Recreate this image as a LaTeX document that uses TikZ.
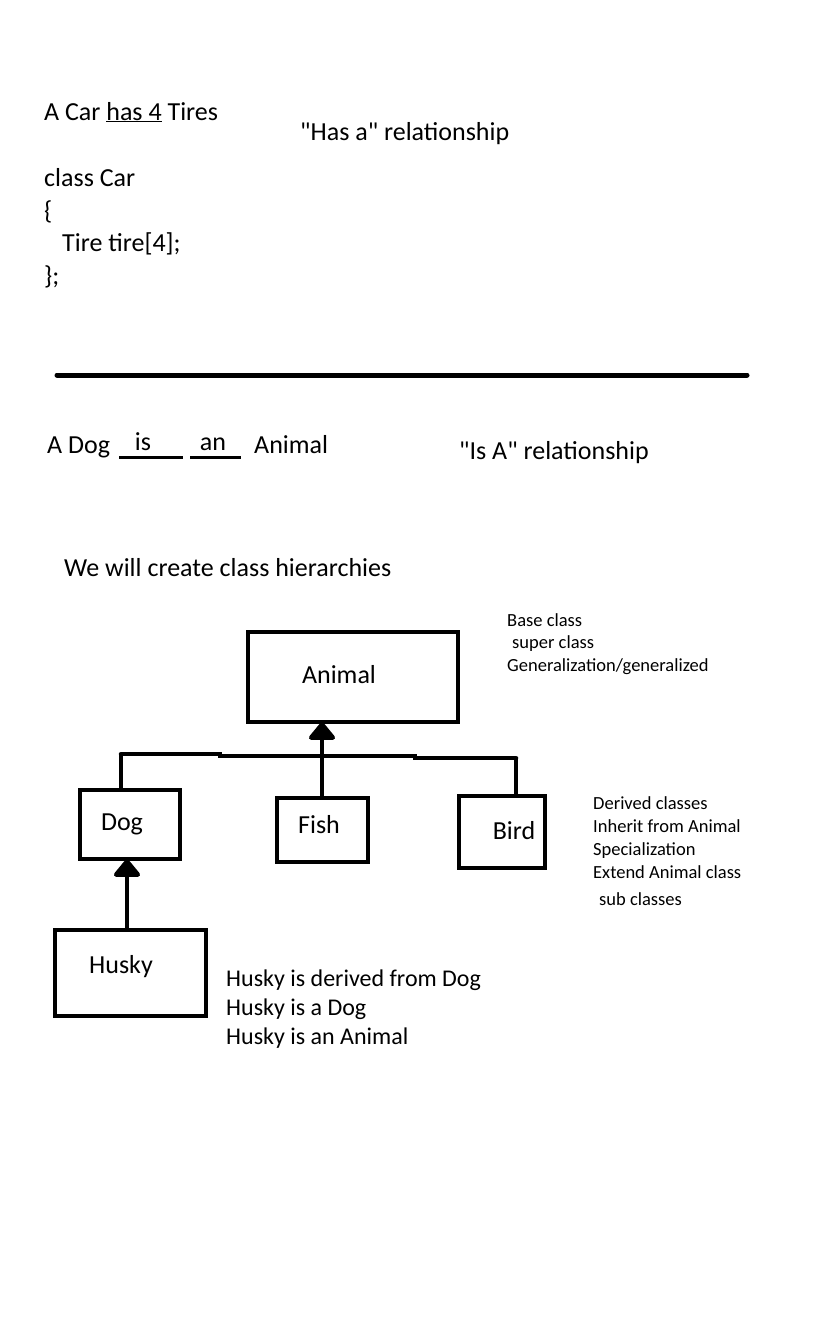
\documentclass[tikz,border=0pt]{standalone}
\usepackage{fontspec}
\setmainfont{Carlito}[Ligatures=TeXOff]
\usetikzlibrary{arrows.meta}
\tikzset{
  big/.style={font=\fontsize{26}{30}\selectfont, inner sep=0pt, anchor=base west},
  mid/.style={font=\fontsize{24}{28}\selectfont, inner sep=0pt, anchor=base west},
  small/.style={font=\fontsize{18.5}{22}\selectfont, inner sep=0pt, anchor=base west},
  cls/.style={draw, line width=4.5pt, inner sep=0pt},
  clslabel/.style={font=\fontsize{26}{30}\selectfont, inner sep=0pt, anchor=base},
  conn/.style={line width=4.5pt},
  inh/.style={line width=4.5pt, -{Triangle[width=30pt,length=19pt,round]}, shorten >=-2pt}
}
\begin{document}
\begin{tikzpicture}[x=1pt,y=-1pt]
\useasboundingbox (0,0) rectangle (838,1320);
\fill[white] (0,0) rectangle (838,1320);
% Has-a part
\node[big] (car) at (44,120) {A Car \underline{has 4} Tires};
\node[big] (hasa) at (300,140) {"Has a" relationship};
\node[big] (c1) at (44,186) {class Car};
\node[big] (c2) at (44,219) {\{};
\node[big] (c3) at (62,251) {Tire tire[4];};
\node[big] (c4) at (44,284) {\};};
% separator
\draw[line width=5pt, line cap=round] (57,375) -- (747,375);
% Is-a part
\node[big] (adog) at (47,453) {A Dog};
\draw[line width=2.5pt] (119,457.5) -- (183,457.5);
\draw[line width=2.5pt] (190,457.5) -- (241,457.5);
\node[big, anchor=base] (is) at (143,450) {is};
\node[big, anchor=base] (an) at (213,450) {an};
\node[big] (animalw) at (254,453) {Animal};
\node[big] (isa) at (459,459) {"Is A" relationship};
\node[big] (we) at (64,576) {We will create class hierarchies};
% hierarchy boxes
\node[cls, minimum width=210pt, minimum height=90pt] (animal) at (353,677) {};
\node[clslabel] (animall) at (339,683) {Animal};
\node[cls, minimum width=100pt, minimum height=69pt] (dog) at (130,824.5) {};
\node[clslabel] (dogl) at (122,830) {Dog};
\node[cls, minimum width=91pt, minimum height=64pt] (fish) at (322.5,830) {};
\node[clslabel] (fishl) at (319,833) {Fish};
\node[cls, minimum width=86pt, minimum height=72pt] (bird) at (502,832) {};
\node[clslabel] (birdl) at (514,839) {Bird};
\node[cls, minimum width=151pt, minimum height=86pt] (husky) at (130.5,973) {};
\node[clslabel] (huskyl) at (121,973) {Husky};
% connectors
\coordinate (jl) at (121,754);
\coordinate (jr) at (516,758);
\draw[conn, line cap=round] (jl) -- (220,754) -- (220,756) -- (415,756) -- (415,758) -- (jr);
\draw[conn] (jl) -- (dog.north -| jl);
\draw[conn] (jr) -- (bird.north -| jr);
\draw[inh] (fish.north -| 322,0) -- (animal.south -| 322,0);
\draw[inh] (husky.north -| 127,0) -- (dog.south -| 127,0);
% notes
\node[small] (n1) at (507,626) {Base class};
\node[small] (n2) at (512,648) {super class};
\node[small] (n3) at (507,671) {Generalization/generalized};
\node[small] (d1) at (593,809) {Derived classes};
\node[small] (d2) at (593,832) {Inherit from Animal};
\node[small] (d3) at (593,855) {Specialization};
\node[small] (d4) at (593,878) {Extend Animal class};
\node[small] (d5) at (599,905) {sub classes};
\node[mid] (h1) at (226,986) {Husky is derived from Dog};
\node[mid] (h2) at (226,1015) {Husky is a Dog};
\node[mid] (h3) at (226,1044) {Husky is an Animal};
\end{tikzpicture}
\end{document}
